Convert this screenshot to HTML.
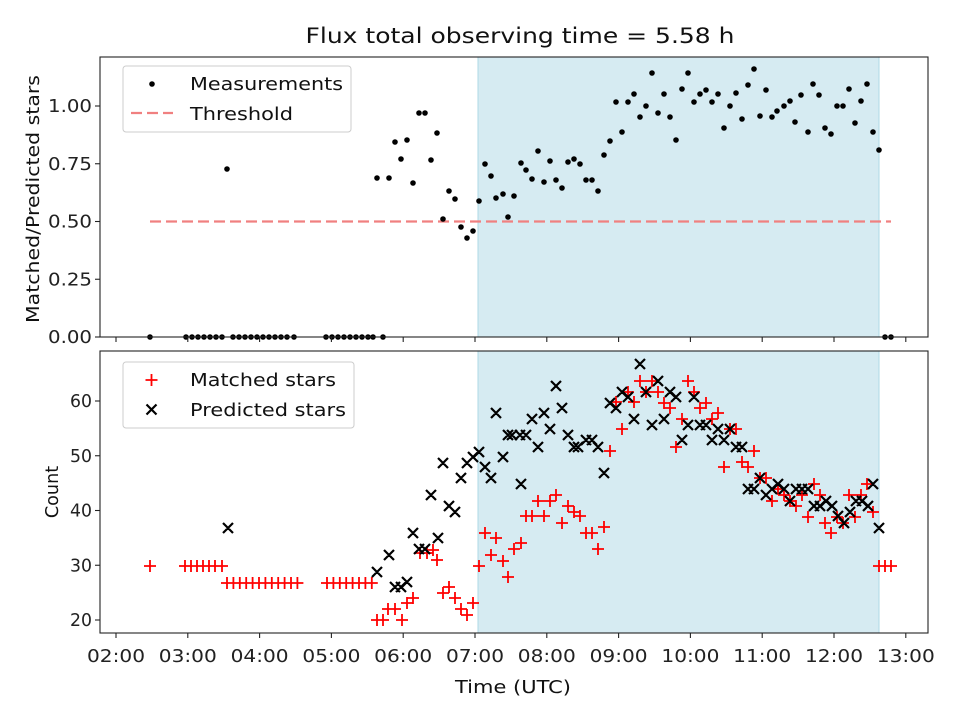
<!DOCTYPE html>
<html><head><meta charset="utf-8"><style>
html,body{margin:0;padding:0;background:#fff}
svg{display:block;font-family:"DejaVu Sans","Liberation Sans",sans-serif}
</style></head><body>
<svg id="s" width="960" height="720" xmlns="http://www.w3.org/2000/svg">
<rect width="960" height="720" fill="#fff"/>
<rect x="478" y="57" width="401" height="280" fill="#d6ebf2" stroke="#add8e6" stroke-width="1"/>
<rect x="478" y="351" width="401" height="282" fill="#d6ebf2" stroke="#add8e6" stroke-width="1"/>
<line x1="150" y1="221.5" x2="891" y2="221.5" stroke="#f08080" stroke-width="2.2" stroke-dasharray="11,5"/>
<g id="gtop"></g><g id="gbot"></g>
<rect x="100" y="57" width="828" height="280" fill="none" stroke="#222" stroke-width="1.1"/>
<rect x="100" y="351" width="828" height="282" fill="none" stroke="#222" stroke-width="1.1"/>
<g id="gticks" stroke="#222" stroke-width="1.1"></g>
<g id="glbl" font-size="17.6" fill="#222"></g>
<text x="520" y="43" font-size="21" text-anchor="middle" fill="#111" textLength="429" lengthAdjust="spacingAndGlyphs">Flux total observing time = 5.58 h</text>
<text x="513" y="693" font-size="17.6" text-anchor="middle" fill="#111" textLength="116" lengthAdjust="spacingAndGlyphs">Time (UTC)</text>
<text transform="translate(39,199) rotate(-90)" font-size="17.6" text-anchor="middle" fill="#111" textLength="248" lengthAdjust="spacingAndGlyphs">Matched/Predicted stars</text>
<text transform="translate(58,492) rotate(-90)" font-size="17.6" text-anchor="middle" fill="#111">Count</text>
<rect x="123" y="66" width="228" height="66" rx="3" fill="#fff" fill-opacity="0.8" stroke="#ccc"/>
<circle cx="152" cy="84" r="2.8" fill="#000"/>
<line x1="131" y1="113" x2="173" y2="113" stroke="#f08080" stroke-width="2.2" stroke-dasharray="11,5"/>
<text x="190" y="90" font-size="17.6" fill="#111" textLength="153" lengthAdjust="spacingAndGlyphs">Measurements</text>
<text x="190" y="120" font-size="17.6" fill="#111" textLength="103" lengthAdjust="spacingAndGlyphs">Threshold</text>
<rect x="123" y="362" width="231" height="66" rx="3" fill="#fff" fill-opacity="0.8" stroke="#ccc"/>
<path d="M145.5,380h12M151.5,374v12" stroke="red" stroke-width="1.8"/>
<path d="M146.5,404.5l10,10M146.5,414.5l10,-10" stroke="#000" stroke-width="2.2"/>
<text x="190" y="386" font-size="17.6" fill="#111" textLength="146" lengthAdjust="spacingAndGlyphs">Matched stars</text>
<text x="190" y="416" font-size="17.6" fill="#111" textLength="156" lengthAdjust="spacingAndGlyphs">Predicted stars</text>
</svg>
<script>
(function(){
var NS="http://www.w3.org/2000/svg";
function el(p,t,a){var e=document.createElementNS(NS,t);for(var k in a)e.setAttribute(k,a[k]);p.appendChild(e);return e;}
var gt=document.getElementById("gtop"),gb=document.getElementById("gbot"),tk=document.getElementById("gticks"),lb=document.getElementById("glbl");
var Z=[150,186,192,198,204,210,216,222,233,239,245,251,257,263,269,275,281,287,294,326,332,338,344,350,356,362,368,373,383,885,891];
Z.forEach(function(x){el(gt,"circle",{cx:x,cy:337,r:2.8,fill:"#000"});});
var M=[[227,169],[377,178],[389,178],[395,142],[401,159],[407,140],[413,183],[419,113],[425,113],[431,160],[437,133],[443,219],[449,191],[455,199],[461,227],[467,238],[473,231],[479,201],[485,164],[491,176],[496,198],[503,194],[508,217],[514,196],[521,163],[526,170],[532,179],[538,151],[544,182],[550,161],[556,180],[562,188],[568,162],[574,159],[580,164],[586,180],[592,180],[598,191],[604,155],[610,141],[616,102],[622,132],[628,102],[634,94],[640,117],[646,106],[652,73],[658,113],[664,94],[670,117],[676,140],[682,89],[688,73],[694,102],[700,94],[706,90],[712,102],[718,94],[724,128],[730,106],[736,93],[742,119],[748,85],[754,69],[760,116],[766,90],[772,117],[777,111],[784,106],[790,101],[795,122],[801,95],[808,132],[813,84],[819,95],[825,128],[831,134],[837,106],[843,106],[849,89],[855,123],[861,101],[867,84],[873,132],[879,150]];
M.forEach(function(p){el(gt,"circle",{cx:p[0],cy:p[1],r:2.8,fill:"#000"});});
var R=[[150,566]];
[185,191,197,203,209,215,222].forEach(function(x){R.push([x,566]);});
for(var i=0;i<12;i++)R.push([227+i*6.4,583]);
for(var i=0;i<8;i++)R.push([327+i*6.4,583]);
R=R.concat([[377,620],[383,620],[388,609],[395,609],[402,620],[407,603],[413,598],[420,553],[427,553],[433,550],[437,560],[443,593],[449,587],[455,598],[461,609],[467,615],[473,603],[479,566],[485,533],[491,555],[496,538],[503,561],[508,577],[514,549],[521,543],[526,516],[532,516],[538,501],[544,516],[550,501],[556,495],[562,523],[568,506],[574,512],[580,516],[586,533],[592,533],[598,549],[604,527],[610,451],[622,429],[616,402],[628,392],[634,402],[640,381],[646,392],[652,381],[658,392],[664,403],[670,408],[676,447],[682,419],[688,381],[694,392],[700,408],[706,403],[712,419],[718,413],[724,467],[730,429],[736,429],[742,462],[748,467],[754,451],[760,478],[766,478],[772,501],[778,489],[784,495],[790,501],[796,506],[802,495],[808,517],[814,484],[820,495],[825,523],[831,533],[837,517],[843,523],[849,495],[855,517],[861,495],[867,484],[873,512],[879,566],[885,566],[891,566]]);
var X=[[228,528],[377,572],[389,555],[395,587],[401,587],[407,582],[413,533],[419,549],[425,549],[431,495],[438,538],[443,463],[449,506],[455,512],[461,478],[467,463],[473,457],[479,452],[485,467],[491,478],[496,413],[503,457],[508,435],[512,435],[521,484],[520,435],[526,435],[532,419],[538,447],[544,413],[550,429],[556,386],[562,408],[568,435],[574,447],[578,447],[586,440],[592,440],[598,447],[604,473],[610,403],[616,408],[622,392],[628,397],[634,419],[640,364],[646,392],[652,425],[658,381],[664,419],[670,392],[676,397],[682,440],[688,425],[694,397],[700,425],[706,425],[712,440],[718,429],[724,440],[730,429],[736,447],[742,447],[748,489],[754,489],[760,478],[766,495],[772,489],[778,484],[784,489],[790,501],[796,489],[802,489],[808,489],[814,506],[820,506],[826,501],[832,506],[838,516],[844,523],[850,512],[856,501],[862,501],[868,506],[873,484],[879,528]];
var d="";R.forEach(function(p){d+="M"+(p[0]-6)+","+p[1]+"h12M"+p[0]+","+(p[1]-6)+"v12";});
el(gb,"path",{d:d,stroke:"red","stroke-width":1.8,fill:"none"});
var d2="";X.forEach(function(p){d2+="M"+(p[0]-5)+","+(p[1]-5)+"l10,10M"+(p[0]-5)+","+(p[1]+5)+"l10,-10";});
el(gb,"path",{d:d2,stroke:"#000","stroke-width":2.2,fill:"none"});
for(var k=0;k<12;k++){var x=116+k*71.8;
el(tk,"line",{x1:x,y1:337,x2:x,y2:342});el(tk,"line",{x1:x,y1:633,x2:x,y2:638});
var t=el(lb,"text",{x:x,y:662,"text-anchor":"middle",textLength:58,lengthAdjust:"spacingAndGlyphs"});t.textContent=(k+2<10?"0":"")+(k+2)+":00";}
["0.00","0.25","0.50","0.75","1.00"].forEach(function(s,i){var y=337-i*57.75;
el(tk,"line",{x1:95,y1:y,x2:100,y2:y});var t=el(lb,"text",{x:92,y:y+6,"text-anchor":"end",textLength:44,lengthAdjust:"spacingAndGlyphs"});t.textContent=s;});
[20,30,40,50,60].forEach(function(v){var y=620-(v-20)*5.475;
el(tk,"line",{x1:95,y1:y,x2:100,y2:y});var t=el(lb,"text",{x:92,y:y+6,"text-anchor":"end",textLength:22,lengthAdjust:"spacingAndGlyphs"});t.textContent=v;});
})();
</script>
</body></html>
